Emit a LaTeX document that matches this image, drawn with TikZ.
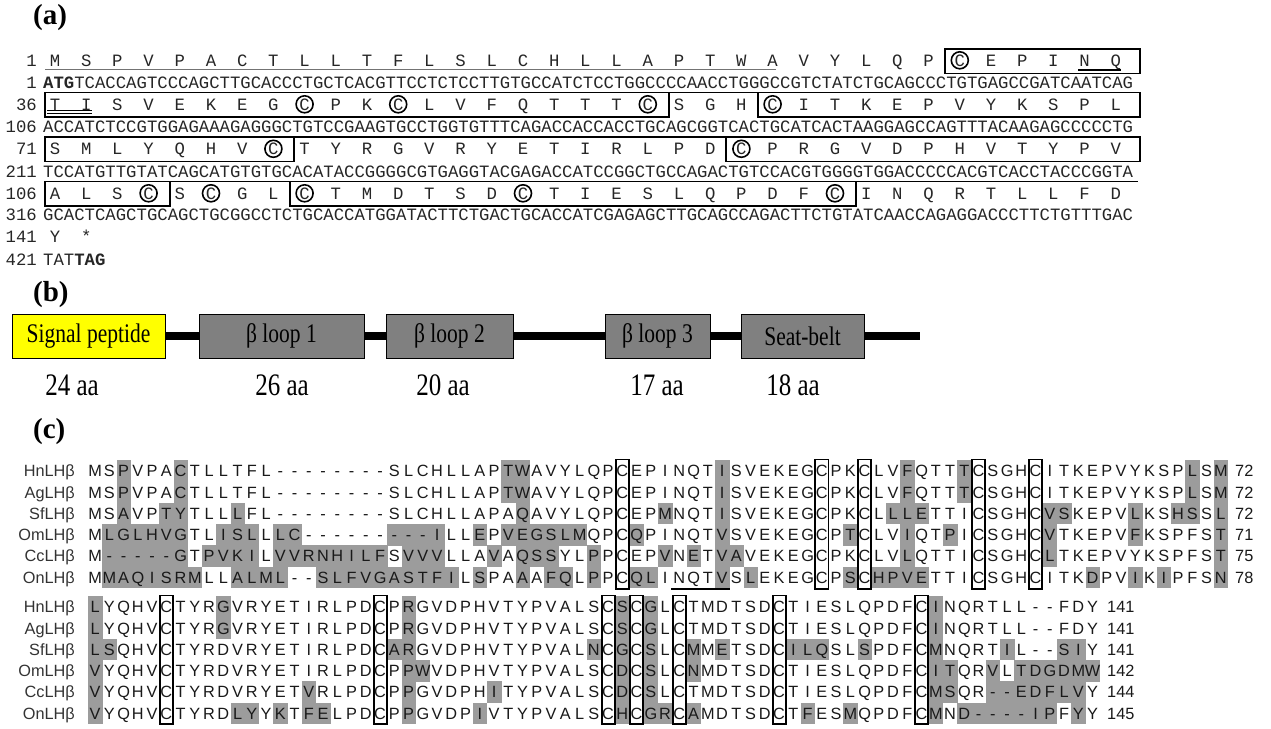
\documentclass[tikz,border=0pt]{standalone}
\usepackage{fontspec}
\setmainfont{Liberation Serif}
\newfontfamily\monofont{Liberation Mono}
\newfontfamily\alnfont{Liberation Sans}
\usetikzlibrary{calc}

\definecolor{shadegray}{RGB}{156,156,156}
\definecolor{boxgray}{RGB}{128,128,128}
\definecolor{sigyellow}{RGB}{255,255,0}

\tikzset{
  panel/.style={font=\fontsize{29}{29}\selectfont\bfseries, inner sep=0, anchor=west},
  aa/.style={font=\monofont\fontsize{17.3}{18}\selectfont, inner sep=0, anchor=base, text=black!85},
  dna/.style={aa, anchor=base west},
  rownum/.style={aa, anchor=base east},
  cys/.style={circle, draw, line width=1.6pt, minimum size=17pt, inner sep=0},
  seqbox/.style={draw, line width=1.8pt},
  uline/.style={line width=1.6pt},
  domainbox/.style={draw, line width=0.8pt, minimum height=44pt, inner sep=0, font=\fontsize{21.5}{21.5}\selectfont},
  aalen/.style={font=\fontsize{25}{25}\selectfont, inner sep=0},
  backbone/.style={line width=8pt},
  res/.style={font=\alnfont\fontsize{16.3}{16.3}\selectfont, inner sep=0, anchor=base, text=black!90},
  seqname/.style={res, anchor=base east, text=black!80},
  shadebox/.style={fill=shadegray},
  cbox/.style={draw, line width=1.8pt}
}

% walk a string and set one letter per node
\newcount\seqcol
\def\aarow#1#2#3{\seqcol=0 \def\rowname{#1}\def\rowy{#2}\aawalk#3\relax}
\def\aawalk#1#2\relax{%
  \node[aa] (\rowname-\the\seqcol) at ({55+31.2*\the\seqcol},\rowy) {#1};
  \advance\seqcol by 1
  \ifx\relax#2\relax\let\seqnext\relax\else\def\seqnext{\aawalk#2\relax}\fi\seqnext}
\def\alnrow#1#2#3{\seqcol=0 \def\rowname{#1}\def\rowy{#2}\alnwalk#3\relax}
\def\alnwalk#1#2\relax{%
  \node[res] (\rowname-\the\seqcol) at ({95.1+14.25*\the\seqcol},\rowy) {#1};
  \advance\seqcol by 1
  \ifx\relax#2\relax\let\seqnext\relax\else\def\seqnext{\alnwalk#2\relax}\fi\seqnext}

\begin{document}
\begin{tikzpicture}[x=1pt,y=-1pt]
\useasboundingbox (0,0) rectangle (1271,728);

% (a) cDNA and deduced protein
\node[panel] (pa) at (33,18) {(a)};
\node[rownum] (na1) at (37,66) {1};
\node[rownum] (nd1) at (37,88) {1};
\node[rownum] (na36) at (37,110) {36};
\node[rownum] (nd106) at (37,132.5) {106};
\node[rownum] (na71) at (37,154.5) {71};
\node[rownum] (nd211) at (37,177) {211};
\node[rownum] (na106) at (37,199) {106};
\node[rownum] (nd316) at (37,220.5) {316};
\node[rownum] (na141) at (37,242.5) {141};
\node[rownum] (nd421) at (37,265) {421};

\aarow{r1}{66}{MSPVPACTLLTFLSLCHLLAPTWAVYLQPCEPINQ}
\aarow{r36}{110}{TISVEKEGCPKCLVFQTTTCSGHCITKEPVYKSPL}
\aarow{r71}{154.5}{SMLYQHVCTYRGVRYETIRLPDCPRGVDPHVTYPV}
\aarow{r106}{199}{ALSCSCGLCTMDTSDCTIESLQPDFCINQRTLLFD}
\aarow{r141}{242.5}{Y*}

\node[dna] (d1) at (43,88) {\textbf{ATG}TCACCAGTCCCAGCTTGCACCCTGCTCACGTTCCTCTCCTTGTGCCATCTCCTGGCCCCAACCTGGGCCGTCTATCTGCAGCCCTGTGAGCCGATCAATCAG};
\node[dna] (d106) at (43,132.5) {ACCATCTCCGTGGAGAAAGAGGGCTGTCCGAAGTGCCTGGTGTTTCAGACCACCACCTGCAGCGGTCACTGCATCACTAAGGAGCCAGTTTACAAGAGCCCCCTG};
\node[dna] (d211) at (43,177) {TCCATGTTGTATCAGCATGTGTGCACATACCGGGGCGTGAGGTACGAGACCATCCGGCTGCCAGACTGTCCACGTGGGGTGGACCCCCACGTCACCTACCCGGTA};
\node[dna] (d316) at (43,220.5) {GCACTCAGCTGCAGCTGCGGCCTCTGCACCATGGATACTTCTGACTGCACCATCGAGAGCTTGCAGCCAGACTTCTGTATCAACCAGAGGACCCTTCTGTTTGAC};
\node[dna] (d421) at (43,265) {TAT\textbf{TAG}};

% underlines
\draw[uline] (45,92.5) -- (1138,92.5);
\draw[uline] (45,137) -- (1138,137);
\draw[uline] (45,181.5) -- (1138,181.5);
\draw[line width=1.1pt, black!55] (45,69.5) -- (776,69.5);
\draw[line width=1.6pt] (1078,70) -- (1121,70);
\draw[line width=0.8pt] (47,110.5) -- (92,110.5);
\draw[line width=0.8pt] (47,113.3) -- (92,113.3);

% boxed loops
\draw[seqbox] (945,49) rectangle (1140,73.5);
\draw[seqbox] (45,92.5) rectangle (669,117);
\draw[seqbox] (758,92.5) rectangle (1140,117);
\draw[seqbox] (45,137) rectangle (294,161.5);
\draw[seqbox] (726,137) rectangle (1140,161.5);
\draw[seqbox] (45,181.5) rectangle (170,206);
\draw[seqbox] (290,181.5) rectangle (856,206);

% cysteines
\foreach \c in {r1-29,r36-8,r36-11,r36-19,r36-23,r71-7,r71-22,r106-3,r106-5,r106-8,r106-15,r106-25}
  \node[cys] (cy-\c) at (\c) {};

% (b) domains
\node[panel] (pb) at (33,295) {(b)};
\node[domainbox, fill=sigyellow, minimum width=153pt] (sig) at (88.5,336) {\scalebox{1}[1.25]{Signal peptide}};
\node[domainbox, fill=boxgray, minimum width=165pt] (loop1) at (281.5,336) {\scalebox{1}[1.25]{β loop 1}};
\node[domainbox, fill=boxgray, minimum width=127pt] (loop2) at (449.5,336) {\scalebox{1}[1.25]{β loop 2}};
\node[domainbox, fill=boxgray, minimum width=105pt] (loop3) at (657.5,336) {\scalebox{1}[1.25]{β loop 3}};
\node[domainbox, fill=boxgray, minimum width=123pt] (belt) at (802.5,336) {\scalebox{1}[1.25]{Seat-belt}};
\coordinate (tail) at (920,336);
\draw[backbone] (sig) -- (loop1);
\draw[backbone] (loop1) -- (loop2);
\draw[backbone] (loop2) -- (loop3);
\draw[backbone] (loop3) -- (belt);
\draw[backbone] (belt) -- (tail);
\node[aalen] (len1) at (72,385) {\scalebox{1}[1.25]{24 aa}};
\node[aalen] (len2) at (282,385) {\scalebox{1}[1.25]{26 aa}};
\node[aalen] (len3) at (443,385) {\scalebox{1}[1.25]{20 aa}};
\node[aalen] (len4) at (657,385) {\scalebox{1}[1.25]{17 aa}};
\node[aalen] (len5) at (793,385) {\scalebox{1}[1.25]{18 aa}};

% (c) alignment, shaded where a residue differs from the column consensus
\node[panel] (pc) at (33,432) {(c)};
\foreach \y/\cols in {471/{2,6,29,30,44,57,61,77,79},
    492.3/{2,6,29,30,44,57,61,77,79},
    513.6/{2,5,6,10,30,40,44,56,57,58,67,68,73,76,77,79},
    534.9/{1,2,3,4,5,6,9,10,11,13,14,21,22,23,24,27,29,30,31,32,33,34,38,44,53,57,60,67,73,79},
    556.2/{1,2,3,4,5,6,8,9,10,11,13,14,15,16,17,18,19,20,22,23,24,28,30,31,32,35,40,42,44,45,57,67,79},
    577.5/{1,2,3,4,5,6,7,10,11,12,13,16,17,18,19,20,21,22,23,24,25,27,30,32,33,35,38,39,44,46,53,55,56,57,58,70,73,75,79},
    607/{0,9,22,37,39,59},
    628.3/{0,9,22,37,39,59},
    649.6/{0,1,21,22,35,37,39,42,44,49,50,51,54,59,64,68,69},
    670.9/{0,22,23,37,39,42,59,60,63,65,66,67,68,69,70},
    692.2/{0,15,22,28,37,39,59,60,63,64,65,66,67,68,69},
    713.5/{0,10,11,13,15,16,22,27,37,39,40,42,50,53,59,61,62,63,64,65,66,67,69}}
  \foreach \k in \cols
    \fill[shadebox] ({88+14.25*\k},{\y-10.75}) rectangle ++(14.5,21.5);

\node[seqname] (hn1) at (75,476.7) {HnLHβ};
\node[seqname] (ag1) at (75,498) {AgLHβ};
\node[seqname] (sf1) at (75,519.3) {SfLHβ};
\node[seqname] (om1) at (75,540.6) {OmLHβ};
\node[seqname] (cc1) at (75,561.9) {CcLHβ};
\node[seqname] (on1) at (75,583.2) {OnLHβ};
\alnrow{hs1}{476.7}{MSPVPACTLLTFL--------SLCHLLAPTWAVYLQPCEPINQTISVEKEGCPKCLVFQTTTCSGHCITKEPVYKSPLSM}
\alnrow{as1}{498}{MSPVPACTLLTFL--------SLCHLLAPTWAVYLQPCEPINQTISVEKEGCPKCLVFQTTTCSGHCITKEPVYKSPLSM}
\alnrow{ss1}{519.3}{MSAVPTYTLLLFL--------SLCHLLAPAQAVYLQPCEPMNQTISVEKEGCPKCLLLETTICSGHCVSKEPVLKSHSSL}
\alnrow{os1}{540.6}{MLGLHVGTLISLLLC---------ILLEPVEGSLMQPCQPINQTVSVEKEGCPTCLVIQTPICSGHCVTKEPVFKSPFST}
\alnrow{cs1}{561.9}{M-----GTPVKILVVRNHILFSVVVLLAVAQSSYLPPCEPVNETVAVEKEGCPKCLVLQTTICSGHCLTKEPVYKSPFST}
\alnrow{ns1}{583.2}{MMAQISRMLLALML--SLFVGASTFILSPAAAFQLPPCQLINQTVSLEKEGCPSCHPVETTICSGHCITKDPVIKIPFSN}
\node[res, anchor=base west] (hnn1) at (1235,476.7) {72};
\node[res, anchor=base west] (agn1) at (1235,498) {72};
\node[res, anchor=base west] (sfn1) at (1235,519.3) {72};
\node[res, anchor=base west] (omn1) at (1235,540.6) {71};
\node[res, anchor=base west] (ccn1) at (1235,561.9) {75};
\node[res, anchor=base west] (onn1) at (1235,583.2) {78};
\foreach \k in {37,51,54,62,66}
  \draw[cbox] ({88.6+14.25*\k},459.5) rectangle ({87.4+14.25*(\k+1)},589);
\draw[line width=2.5pt] ($(ns1-41.base west)+(-2,6)$) -- ($(ns1-44.base east)+(2,6)$);

\node[seqname] (hn2) at (75,612.7) {HnLHβ};
\node[seqname] (ag2) at (75,634) {AgLHβ};
\node[seqname] (sf2) at (75,655.3) {SfLHβ};
\node[seqname] (om2) at (75,676.6) {OmLHβ};
\node[seqname] (cc2) at (75,697.9) {CcLHβ};
\node[seqname] (on2) at (75,719.2) {OnLHβ};
\alnrow{hs2}{612.7}{LYQHVCTYRGVRYETIRLPDCPRGVDPHVTYPVALSCSCGLCTMDTSDCTIESLQPDFCINQRTLL--FDY}
\alnrow{as2}{634}{LYQHVCTYRGVRYETIRLPDCPRGVDPHVTYPVALSCSCGLCTMDTSDCTIESLQPDFCINQRTLL--FDY}
\alnrow{ss2}{655.3}{LSQHVCTYRDVRYETIRLPDCARGVDPHVTYPVALNCGCSLCMMETSDCILQSLSPDFCMNQRTIL--SIY}
\alnrow{os2}{676.6}{VYQHVCTYRDVRYETIRLPDCPPWVDPHVTYPVALSCDCSLCNMDTSDCTIESLQPDFCITQRVLTDGDMW}
\alnrow{cs2}{697.9}{VYQHVCTYRDVRYETVRLPDCPPGVDPHITYPVALSCDCSLCTMDTSDCTIESLQPDFCMSQR--EDFLVY}
\alnrow{ns2}{719.2}{VYQHVCTYRDLYYKTFELPDCPPGVDPIVTYPVALSCHCGRCAMDTSDCTFESMQPDFCMND----IPFYY}
\node[res, anchor=base west] (hnn2) at (1107,612.7) {141};
\node[res, anchor=base west] (agn2) at (1107,634) {141};
\node[res, anchor=base west] (sfn2) at (1107,655.3) {141};
\node[res, anchor=base west] (omn2) at (1107,676.6) {142};
\node[res, anchor=base west] (ccn2) at (1107,697.9) {144};
\node[res, anchor=base west] (onn2) at (1107,719.2) {145};
\foreach \k in {5,20,36,38,41,48,58}
  \draw[cbox] ({88.6+14.25*\k},595.5) rectangle ({87.4+14.25*(\k+1)},724);
\end{tikzpicture}
\end{document}
